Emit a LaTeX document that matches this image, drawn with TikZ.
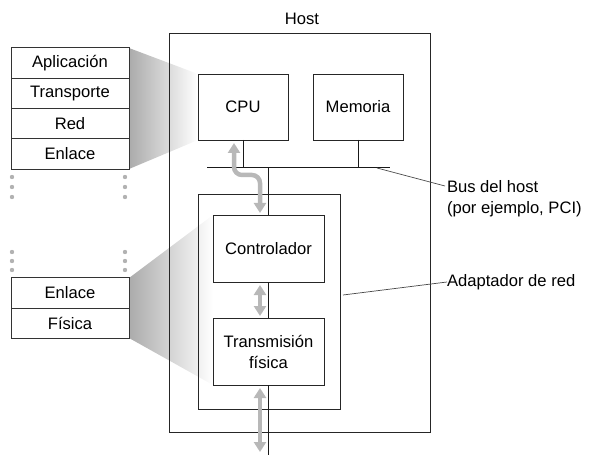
\documentclass[tikz,border=0pt]{standalone}
\usepackage{fontspec}
\setmainfont{Liberation Sans}
\usetikzlibrary{arrows.meta}
\begin{document}
\begin{tikzpicture}[x=1pt,y=-1pt,
  every node/.style={inner sep=0pt,outer sep=0pt,font=\fontsize{16.6}{21}\selectfont},
  box/.style={draw=black!85,line width=0.9pt,fill=white,align=center},
  frame/.style={draw=black!85,line width=0.9pt},
  cell/.style={draw=black!80,line width=0.9pt,fill=white,minimum width=118pt,minimum height=30.3pt},
  wire/.style={draw=black!90,line width=1pt},
  garrow/.style={draw=black!28,line width=4.5pt,rounded corners=8pt,
     {Triangle[width=12pt,length=10pt]}-{Triangle[width=12pt,length=10pt]}},
  gdot/.style={fill=black!30,draw=none},
  callout/.style={draw=black!70,line width=0.7pt}]
\useasboundingbox (0,0) rectangle (595,468);
% shadings
\shade[left color=black!33,right color=white] (129,48) -- (198,74) -- (198,140) -- (129,169) -- cycle;
\shade[left color=black!33,right color=white] (129,278) -- (213,215) -- (213,385) -- (129,338) -- cycle;
% host
\node[frame,minimum width=261pt,minimum height=399pt] (host) at (299.5,232.5) {};
\node[anchor=base] (hostlbl) at (302,25) {Host};
% adapter
\node[frame,minimum width=142pt,minimum height=215pt] (adapt) at (269,301.5) {};
% boxes
\node[box,minimum width=90pt,minimum height=66pt] (cpu) at (243,107) {CPU};
\node[box,minimum width=90pt,minimum height=66pt] (mem) at (358,107) {Memoria};
\node[box,minimum width=111pt,minimum height=67pt] (ctrl) at (268.5,248.5) {Controlador};
\node[box,minimum width=111pt,minimum height=67pt] (tx) at (268.5,351.5) {Transmisión\\física};
% bus
\coordinate (busL) at (207,168);
\coordinate (busR) at (390,168);
\coordinate (busJ) at (268.5,168);
\coordinate (netEnd) at (268.5,455);
\draw[wire] (busL) -- (busR);
\draw[wire] (cpu.south) -- (cpu.south |- busL);
\draw[wire] (mem.south) -- (mem.south |- busL);
\draw[wire] (busJ) -- (ctrl.north);
\draw[wire] (ctrl.south) -- (tx.north);
\draw[wire] (tx.south) -- (netEnd);
% gray arrows
\coordinate (a1) at (234,143);
\coordinate (a2) at (260,213);
\draw[garrow] (a1) -- (234,175) -- (260,175) -- (a2);
\coordinate (b1) at (260,285);
\coordinate (b2) at (260,316);
\draw[garrow] (b1) -- (b2);
\coordinate (c1) at (260,388);
\coordinate (c2) at (260,452);
\draw[garrow] (c1) -- (c2);
% stack top
\node[cell] (apl) at (70,63) {Aplicación};
\node[cell,anchor=north] (trn) at (apl.south) {Transporte};
\node[cell,anchor=north] (red) at (trn.south) {Red};
\node[cell,anchor=north] (enl) at (red.south) {Enlace};
\foreach \y in {177,187,197}{
  \fill[gdot] (12,\y) circle (2.2pt);
  \fill[gdot] (125,\y) circle (2.2pt);
}
\foreach \y in {252,261,270}{
  \fill[gdot] (12,\y) circle (2.2pt);
  \fill[gdot] (125,\y) circle (2.2pt);
}
\node[cell] (enl2) at (70,293) {Enlace};
\node[cell,anchor=north] (fis) at (enl2.south) {Física};
% callouts
\coordinate (busC) at (377,168);
\node[anchor=west,align=left] (buslbl) at (447,199) {Bus del host\\(por ejemplo, PCI)};
\draw[callout] (busC) -- (445,186);
\coordinate (adC) at (343,295);
\node[anchor=west] (adlbl) at (447,282) {Adaptador de red};
\draw[callout] (adC) -- (adlbl.west);
\end{tikzpicture}
\end{document}
